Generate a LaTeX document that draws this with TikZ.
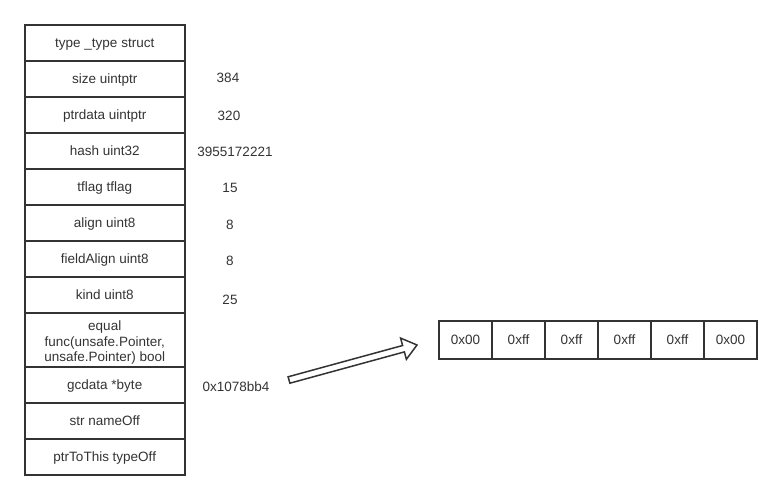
\documentclass[tikz,border=0pt]{standalone}
\usepackage{fontspec}
\setmainfont{Liberation Sans}
\definecolor{ink}{HTML}{333333}
\begin{document}
\begin{tikzpicture}[x=1pt,y=-1pt,
  txt/.style={font=\fontsize{13.5}{15.5}\selectfont, text=ink},
  field/.style={txt, draw=ink, line width=2pt, minimum width=159.5pt, minimum height=36pt, inner sep=0pt, align=center},
  oneline/.style={text height=9.7pt, text depth=0pt},
  val/.style={txt, inner sep=0pt},
  cell/.style={txt, draw=ink, line width=2pt, minimum width=53pt, minimum height=38pt, inner sep=0pt, text height=9.7pt, text depth=0pt},
  hollow/.style={draw=ink, line width=1.5pt, line join=miter, fill=white}]
\useasboundingbox (0,0) rectangle (782,500);
% struct fields
\node[field, oneline] (f1) at (104.75,43) {type \_type struct};
\node[field, oneline] (f2) at (104.75,79) {size uintptr};
\node[field, oneline] (f3) at (104.75,115) {ptrdata uintptr};
\node[field, oneline] (f4) at (104.75,151) {hash uint32};
\node[field, oneline] (f5) at (104.75,187) {tflag tflag};
\node[field, oneline] (f6) at (104.75,223) {align uint8};
\node[field, oneline] (f7) at (104.75,259) {fieldAlign uint8};
\node[field, oneline] (f8) at (104.75,295) {kind uint8};
\node[field, minimum height=54pt] (f9) at (104.75,340) {};
\node[txt, align=center, inner sep=0pt] (f9t) at (104.75,343) {equal\\func(unsafe.Pointer,\\unsafe.Pointer) bool};
\node[field, oneline] (f10) at (104.75,385) {gcdata *byte};
\node[field, oneline] (f11) at (104.75,421) {str nameOff};
\node[field, oneline] (f12) at (104.75,457) {ptrToThis typeOff};
% values
\node[val] (v2) at (228,78) {384};
\node[val] (v3) at (229,116) {320};
\node[val] (v4) at (235,152) {3955172221};
\node[val] (v5) at (230,188) {15};
\node[val] (v6) at (230,225) {8};
\node[val] (v7) at (230,261) {8};
\node[val] (v8) at (230,300) {25};
\node[val] (v10) at (236,387) {0x1078bb4};
% byte array
\node[cell] (b1) at (465.5,340) {0x00};
\node[cell] (b2) at (518.5,340) {0xff};
\node[cell] (b3) at (571.5,340) {0xff};
\node[cell] (b4) at (624.5,340) {0xff};
\node[cell] (b5) at (677.5,340) {0xff};
\node[cell] (b6) at (730.5,340) {0x00};
% hollow arrow
\coordinate (tt) at (288.1,376.8);
\coordinate (st) at (402.6,345.5);
\coordinate (ht) at (400.6,338.1);
\coordinate (tip) at (417,345);
\coordinate (hb) at (406.4,359.3);
\coordinate (sb) at (404.4,351.9);
\coordinate (tb) at (289.9,383.2);
\draw[hollow] (tt) -- (st) -- (ht) -- (tip) -- (hb) -- (sb) -- (tb) -- cycle;
\end{tikzpicture}
\end{document}
